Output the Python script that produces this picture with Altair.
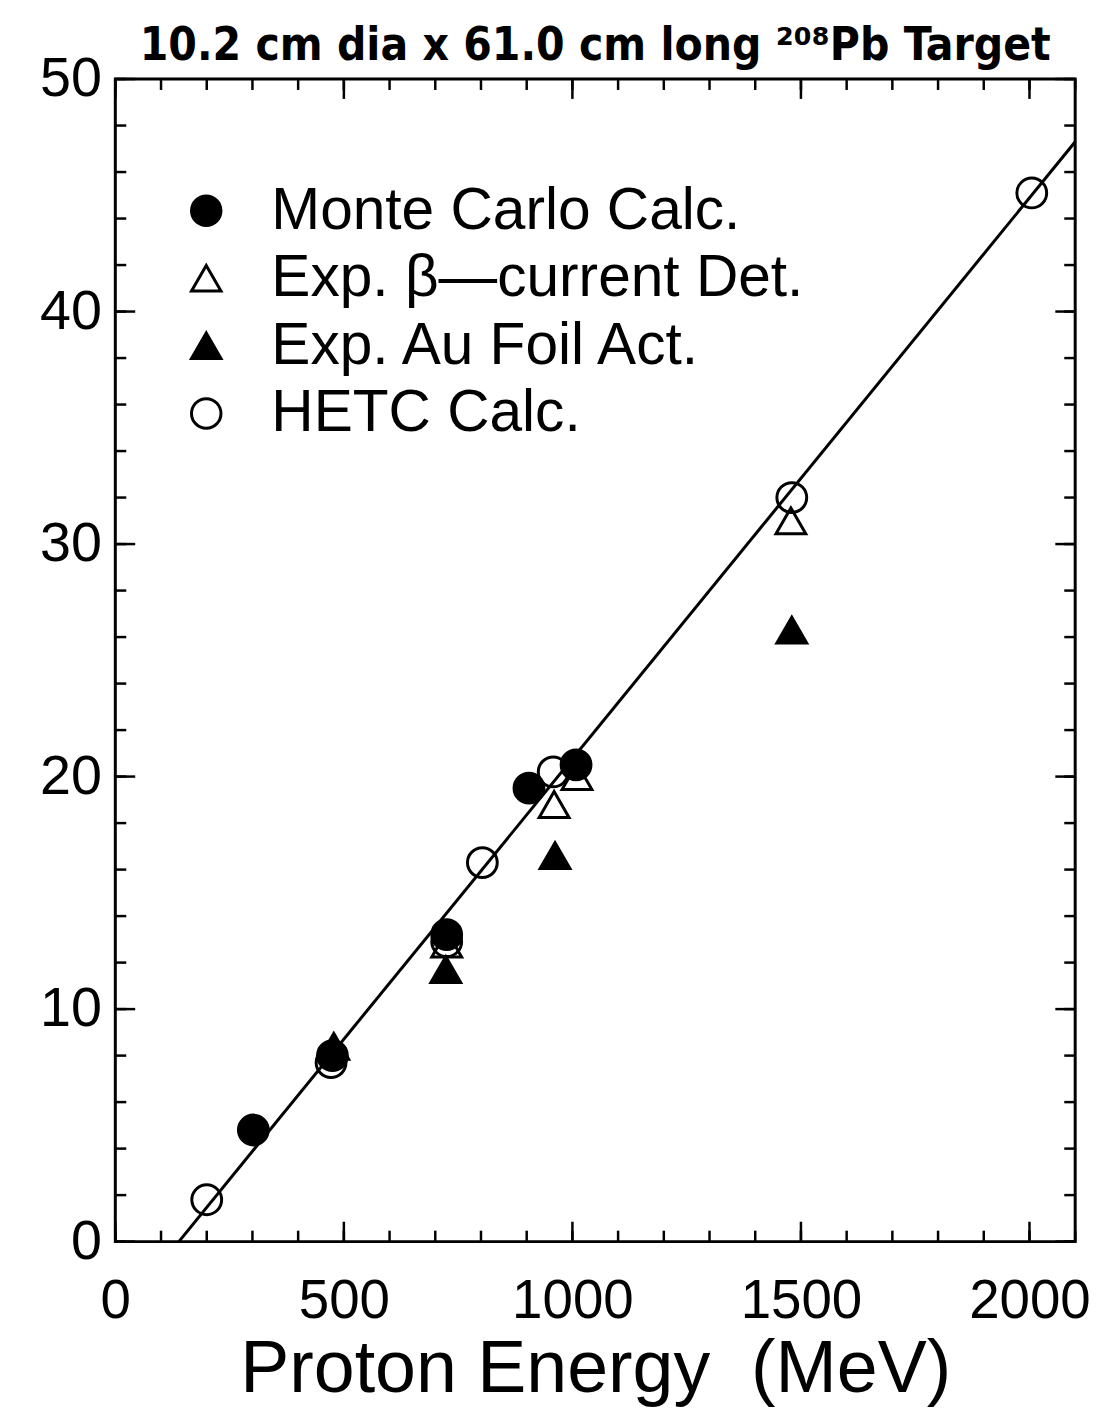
import altair as alt
import pandas as pd

# ---- data ----
series_names = ["Monte Carlo Calc.", "Exp. β—current Det.", "Exp. Au Foil Act.", "HETC Calc."]

mc_x = [302, 475, 725, 905, 1008]
mc_y = [4.8, 8.0, 13.2, 19.5, 20.5]

beta_x = [725, 960, 1010, 1478]
beta_y = [12.8, 18.8, 20.0, 31.0]

au_x = [478, 723, 962, 1480]
au_y = [8.4, 11.7, 16.6, 26.3]

hetc_x = [200, 472, 725, 803, 958, 1480, 2005]
hetc_y = [1.8, 7.7, 12.9, 16.3, 20.2, 32.0, 45.1]

fit_x = [139, 2100]
fit_y = [0.0, 47.3]

x_major = [0, 500, 1000, 1500, 2000]
x_minor = list(range(0, 2101, 100))
y_major = [0, 10, 20, 30, 40, 50]
y_minor = list(range(0, 51, 2))

title_text = "10.2 cm dia x 61.0 cm long ²⁰⁸Pb Target"
x_title = "Proton Energy\u00a0\u00a0(MeV)"

W, H = 966, 1170
FONT = "Liberation Sans"

rows = []
for name, xs_, ys_ in zip(series_names, [mc_x, beta_x, au_x, hetc_x], [mc_y, beta_y, au_y, hetc_y]):
    for a, b in zip(xs_, ys_):
        rows.append({"series": name, "E": a, "N": b})
pts = pd.DataFrame(rows)
fit = pd.DataFrame({"E": fit_x, "N": fit_y})

xs = alt.Scale(domain=[0, 2100], nice=False, zero=False)
ys = alt.Scale(domain=[0, 50], nice=False, zero=False)

leg = dict(title=None, orient="none", legendX=62, legendY=103,
           labelFontSize=59, labelFont=FONT, labelColor="black", labelLimit=900,
           symbolSize=880, symbolStrokeWidth=3, symbolStrokeColor="black",
           labelOffset=36, rowPadding=8, padding=0)

points = alt.Chart(pts).mark_point(filled=True, strokeWidth=3, size=900, opacity=1).encode(
    x=alt.X("E:Q", scale=xs,
            axis=alt.Axis(values=x_major, format="d", ticks=False, domain=False, grid=False,
                          labelFontSize=55, labelFont=FONT, labelColor="black", labelPadding=33,
                          title=x_title, titleFontSize=74, titleFont=FONT, titleFontWeight="normal",
                          titleColor="black", titlePadding=6, labelFlush=False)),
    y=alt.Y("N:Q", scale=ys,
            axis=alt.Axis(values=y_major, format="d", ticks=False, domain=False, grid=False,
                          labelFontSize=56, labelFont=FONT, labelColor="black", labelPadding=14,
                          title=None, labelFlush=False)),
    shape=alt.Shape("series:N",
                    scale=alt.Scale(domain=series_names,
                                    range=["circle", "triangle-up", "triangle-up", "circle"]),
                    legend=alt.Legend(**leg)),
    fill=alt.Fill("series:N",
                  scale=alt.Scale(domain=series_names,
                                  range=["black", "transparent", "black", "transparent"]),
                  legend=alt.Legend(**leg)),
    stroke=alt.Stroke("series:N",
                      scale=alt.Scale(domain=series_names,
                                      range=["black", "black", "black", "black"]),
                      legend=alt.Legend(**leg)),
)

line = alt.Chart(fit).mark_line(color="black", strokeWidth=3, clip=True).encode(
    x=alt.X("E:Q", scale=xs), y=alt.Y("N:Q", scale=ys)
)

def xticks(vals, length):
    df = pd.DataFrame({"E": vals})
    bottom = alt.Chart(df).mark_rule(color="black", strokeWidth=2.5).encode(
        x=alt.X("E:Q", scale=xs), y=alt.value(H), y2=alt.value(H - length))
    top = alt.Chart(df).mark_rule(color="black", strokeWidth=2.5).encode(
        x=alt.X("E:Q", scale=xs), y=alt.value(0), y2=alt.value(length))
    return [bottom, top]

def yticks(vals, length):
    df = pd.DataFrame({"N": vals})
    left = alt.Chart(df).mark_rule(color="black", strokeWidth=2.5).encode(
        y=alt.Y("N:Q", scale=ys), x=alt.value(0), x2=alt.value(length))
    right = alt.Chart(df).mark_rule(color="black", strokeWidth=2.5).encode(
        y=alt.Y("N:Q", scale=ys), x=alt.value(W), x2=alt.value(W - length))
    return [left, right]

layers = [line] + xticks(x_minor, 11) + xticks(x_major, 20) + yticks(y_minor, 11) + yticks(y_major, 20) + [points]

chart = alt.layer(*layers).properties(
    width=W, height=H,
    title=alt.TitleParams(text=title_text, fontSize=46, fontWeight="bold", font="DejaVu Sans Condensed",
                          color="black", anchor="middle", offset=-19),
    autosize=alt.AutoSizeParams(type="none"),
    padding={"left": 108, "top": 67, "right": 30, "bottom": 170},
    background="white",
).configure_view(
    stroke="black", strokeWidth=3
)

chart.save("out.html", embed_options={"renderer": "svg", "actions": False})
